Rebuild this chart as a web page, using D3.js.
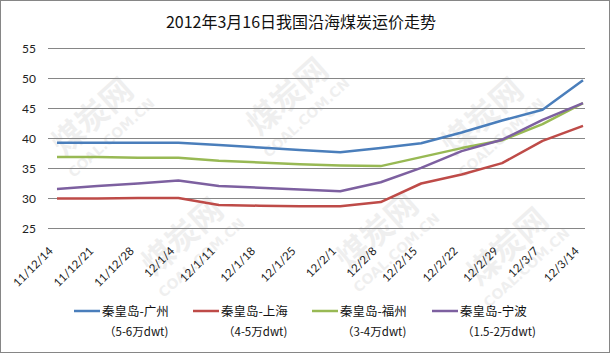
<!DOCTYPE html>
<html>
<head>
<meta charset="utf-8">
<script src="https://cdn.jsdelivr.net/npm/d3@7"></script>
<style>
html,body{margin:0;padding:0;background:#fff;}
svg{display:block;font-family:"Lato","Noto Sans CJK SC",sans-serif;}
</style>
</head>
<body>
<svg id="chart" width="610" height="353"></svg>
<script>
const title = "2012年3月16日我国沿海煤炭运价走势";
const categories = ["11/12/14","11/12/21","11/12/28","12/1/4","12/1/11","12/1/18","12/1/25","12/2/1","12/2/8","12/2/15","12/2/22","12/2/29","12/3/7","12/3/14"];
const seriesNames = ["秦皇岛-广州","秦皇岛-上海","秦皇岛-福州","秦皇岛-宁波"];
const seriesSub = ["（5-6万dwt)","（4-5万dwt)","（3-4万dwt)","（1.5-2万dwt)"];
const guangzhou = [39.3,39.3,39.3,39.3,38.9,38.5,38.1,37.7,38.4,39.2,41.0,43.0,44.8,49.7];
const shanghai  = [30.0,30.0,30.1,30.1,28.9,28.8,28.7,28.7,29.4,32.5,34.0,35.9,39.6,42.1];
const fuzhou    = [36.9,36.9,36.8,36.8,36.3,36.0,35.7,35.5,35.4,36.9,38.4,39.7,42.4,45.9];
const ningbo    = [31.6,32.1,32.5,33.0,32.1,31.8,31.5,31.2,32.7,35.1,37.9,39.8,43.1,45.9];
const yTicks = [25,30,35,40,45,50,55];
const colors = ["#4A7EBB","#BE4B48","#98B954","#7D60A0"];
const seriesValues = [guangzhou, shanghai, fuzhou, ningbo];

const svg = d3.select("#chart");
const W = 610, H = 353;

// outer border
svg.append("rect").attr("x",0.5).attr("y",0.5).attr("width",W-1).attr("height",H-1)
  .attr("fill","#fff").attr("stroke","#868686");

// faint watermark (kept fully inside the frame)
const wm = svg.append("g").attr("pointer-events","none");
const wmPos = [[100,125],[295,105],[490,125],[190,245],[385,240],[515,255]];
wmPos.forEach(p=>{
  const g = wm.append("g").attr("transform",`translate(${p[0]},${p[1]}) rotate(-42)`);
  g.append("text").attr("text-anchor","middle").attr("font-size",32).attr("font-weight","bold")
    .attr("font-family","Noto Sans CJK SC").attr("fill","#000").attr("opacity",0.06).text("煤炭网");
  g.append("text").attr("text-anchor","middle").attr("y",22).attr("font-size",14).attr("font-weight","bold")
    .attr("font-family","DejaVu Sans").attr("fill","#000").attr("opacity",0.06).text("COAL.COM.CN");
});

const plotL = 48, plotR = 585;
const x = d3.scaleLinear().domain([0, categories.length-1]).range([57, 583]);
const y = d3.scaleLinear().domain([25,55]).range([228.5, 48.5]);

// gridlines + y labels
const yAxis = d3.axisLeft(y).tickValues(yTicks).tickSize(0).tickPadding(12);
const ga = svg.append("g").attr("transform",`translate(${plotL},0)`).call(yAxis);
ga.select(".domain").remove();
ga.selectAll("text").attr("font-size",12).attr("fill","#222").attr("font-family","Lato");
svg.append("g").selectAll("line").data(yTicks).join("line")
  .attr("x1",plotL).attr("x2",plotR).attr("y1",d=>y(d)).attr("y2",d=>y(d))
  .attr("stroke","#868686").attr("stroke-width",1);

// x labels
svg.append("g").selectAll("text").data(categories).join("text")
  .attr("transform",(d,i)=>`translate(${x(i)-9},246) rotate(-45)`)
  .attr("text-anchor","end").attr("dy","0.71em")
  .attr("font-size",11.5).attr("fill","#222").attr("font-family","Lato")
  .text(d=>d);

// lines
const line = d3.line().x((d,i)=>x(i)).y(d=>y(d));
svg.append("g").selectAll("path").data(seriesValues).join("path")
  .attr("d",d=>line(d)).attr("fill","none")
  .attr("stroke",(d,i)=>colors[i]).attr("stroke-width",2.5)
  .attr("stroke-linejoin","round").attr("stroke-linecap","butt");

// title
svg.append("text").attr("x",301).attr("y",28).attr("text-anchor","middle")
  .attr("font-size",16).attr("fill","#111").attr("font-family","Noto Sans CJK SC")
  .text(title);

// legend
const legX = [74,193,312,432];
const lg = svg.append("g").selectAll("g").data(seriesNames).join("g")
  .attr("transform",(d,i)=>`translate(${legX[i]},0)`);
lg.append("line").attr("x1",0).attr("x2",26).attr("y1",311).attr("y2",311)
  .attr("stroke",(d,i)=>colors[i]).attr("stroke-width",2.5);
lg.append("text").attr("x",28).attr("y",316).attr("font-size",12.5)
  .attr("font-family","Noto Sans CJK SC").attr("fill","#111").text(d=>d);
lg.append("text").attr("x",30).attr("y",336).attr("font-size",11.5)
  .attr("font-family","Noto Sans CJK SC").attr("fill","#111").text((d,i)=>seriesSub[i]);
</script>
</body>
</html>
